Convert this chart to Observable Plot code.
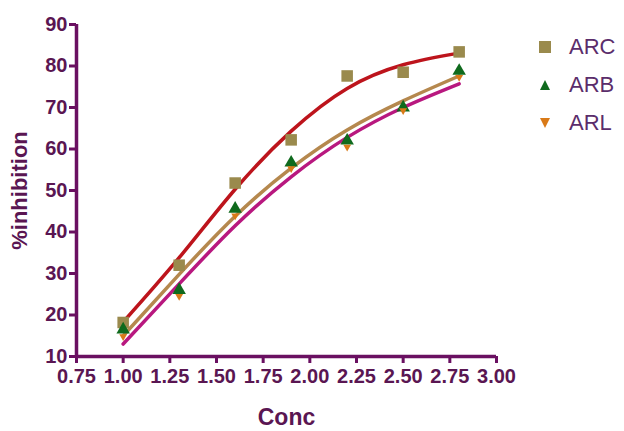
<!DOCTYPE html>
<html><head><meta charset="utf-8">
<script src="https://cdn.jsdelivr.net/npm/d3@7"></script>
<script src="https://cdn.jsdelivr.net/npm/@observablehq/plot@0.6"></script>
<style>
body{margin:0;background:#fff}
#wrap{position:relative;width:624px;height:431px}
#legend{position:absolute;left:538px;top:28px;font-family:"Liberation Sans",Arial,sans-serif;font-size:22px;color:#5b2d6b}
#legend .row{display:flex;align-items:center;height:38px}
#legend svg{margin-right:17px}
</style></head><body><div id="wrap"><div id="legend"></div></div>
<script>
const series = ["ARC", "ARB", "ARL"];
const conc = [1.0, 1.3, 1.6, 1.9, 2.2, 2.5, 2.8];
const arc = [18.2, 32.0, 51.8, 62.2, 77.6, 78.5, 83.4];
const arb = [16.5, 26.0, 45.6, 56.7, 62.0, 70.0, 78.8];
const arl = [14.8, 24.5, 43.9, 55.3, 60.5, 69.3, 77.3];
const fitARC = [18.3, 33.8, 50.3, 64.3, 74.6, 80.3, 83.1];
const fitARB = [15.0, 29.8, 43.8, 55.4, 64.6, 71.6, 77.6];
const fitARL = [13.0, 27.5, 41.5, 53.3, 62.8, 70.0, 75.7];
const xTicks = [0.75, 1.00, 1.25, 1.50, 1.75, 2.00, 2.25, 2.50, 2.75, 3.00];
const yTicks = [10, 20, 30, 40, 50, 60, 70, 80, 90];

const axisColor = "#6a1061";
const textColor = "#5a1652";
const font = "'Liberation Sans',Arial,sans-serif";

const downTriangle = {draw(ctx, size) {
  const s = Math.sqrt(size / (3 * Math.sqrt(3) / 4));
  const h = s * Math.sqrt(3) / 2;
  ctx.moveTo(0, h * 2 / 3); ctx.lineTo(s / 2, -h / 3); ctx.lineTo(-s / 2, -h / 3); ctx.closePath();
}};

const pts = (vals, name) => conc.map((c, i) => ({conc: c, v: vals[i], s: name}));
const fit = (vals) => conc.map((c, i) => ({conc: c, v: vals[i]}));

const plot = Plot.plot({
  width: 624, height: 431,
  marginLeft: 76, marginRight: 128, marginTop: 24, marginBottom: 75,
  style: {fontFamily: font, fontWeight: "bold", fontSize: "20px", color: textColor, background: "#fff"},
  x: {domain: [0.75, 3.0]},
  y: {domain: [10, 90]},
  marks: [
    Plot.line(fit(fitARB), {x: "conc", y: "v", curve: "natural", stroke: "#b5884e", strokeWidth: 3.5}),
    Plot.line(fit(fitARL), {x: "conc", y: "v", curve: "natural", stroke: "#b8187f", strokeWidth: 3.5}),
    Plot.line(fit(fitARC), {x: "conc", y: "v", curve: "natural", stroke: "#bd141c", strokeWidth: 3.5}),
    Plot.dot(pts(arc, "ARC"), {x: "conc", y: "v", symbol: "square", r: 6.5, fill: "#9a8a4d"}),
    Plot.dot(pts(arb, "ARB"), {x: "conc", y: "v", symbol: "triangle", r: 5, fill: "#0f6a1d"}),
    Plot.dot(pts(arl, "ARL"), {x: "conc", y: "v", symbol: downTriangle, r: 5, fill: "#d97a18"}),
    Plot.axisY({ticks: yTicks, tickSize: 7, tickPadding: 2, stroke: axisColor, strokeWidth: 3, fill: textColor, fontSize: 20, label: null, tickFormat: d => String(d)}),
    Plot.axisX({ticks: xTicks, tickSize: 7, tickPadding: 5, stroke: axisColor, strokeWidth: 3, fill: textColor, fontSize: 20, label: null, tickFormat: d3.format(".2f")}),
    Plot.ruleX([0.75], {stroke: axisColor, strokeWidth: 3.5}),
    Plot.ruleY([10], {stroke: axisColor, strokeWidth: 3.5}),
    Plot.text(["%inhibition"], {frameAnchor: "left", textAnchor: "middle", lineAnchor: "middle", rotate: -90, dx: -57, fill: textColor, fontSize: 22, fontWeight: "bold"}),
    Plot.text(["Conc"], {frameAnchor: "bottom", textAnchor: "middle", lineAnchor: "middle", dy: 61, fill: textColor, fontSize: 23, fontWeight: "bold"})
  ]
});
document.getElementById("wrap").prepend(plot);

const legendItems = [
  {name: series[0], color: "#9a8a4d", shape: "square"},
  {name: series[1], color: "#0f6a1d", shape: "up"},
  {name: series[2], color: "#d97a18", shape: "down"}
];
const leg = document.getElementById("legend");
for (const it of legendItems) {
  const row = document.createElement("div"); row.className = "row";
  let shape;
  if (it.shape === "square") shape = `<rect x="1" y="1" width="12" height="12" fill="${it.color}"/>`;
  else if (it.shape === "up") shape = `<polygon points="7,2 12,12 2,12" fill="${it.color}"/>`;
  else shape = `<polygon points="2,2 12,2 7,12" fill="${it.color}"/>`;
  row.innerHTML = `<svg width="14" height="14">${shape}</svg><span>${it.name}</span>`;
  leg.appendChild(row);
}
</script></body></html>
